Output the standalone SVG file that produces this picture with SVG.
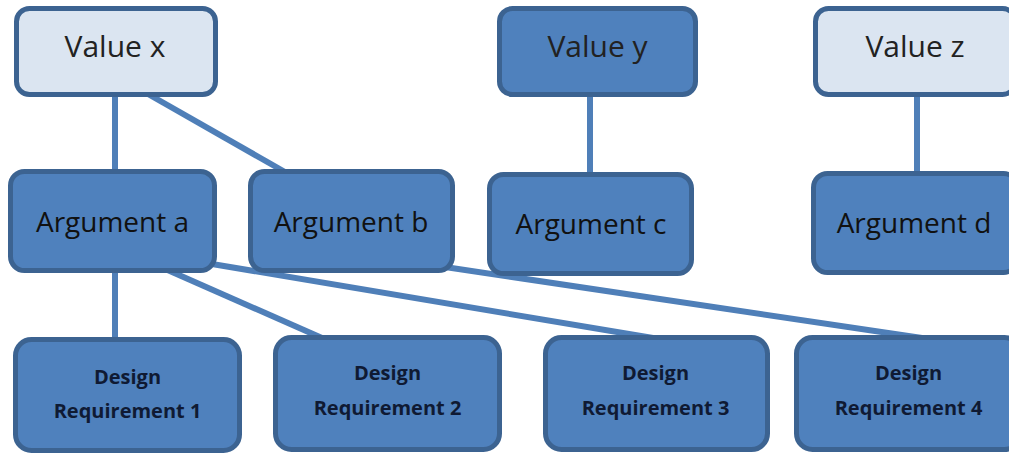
<svg xmlns="http://www.w3.org/2000/svg" width="1009" height="453" viewBox="0 0 1009 453">
<style>
.box{fill:#4f81bd;stroke:#3c6391;stroke-width:5}
.light{fill:#dbe5f1;stroke:#3c6391;stroke-width:5}
.big{font-family:"Open Sans",sans-serif;font-size:28px;fill:#111;text-anchor:middle}
.top{font-size:30px;fill:#222}
.dr{font-family:"Open Sans",sans-serif;font-size:20px;font-weight:bold;fill:#0f1a33;text-anchor:middle}
.conn{stroke:#4f7fb8;stroke-width:6;fill:none}
</style>
<rect width="1009" height="453" fill="#fff"/>
<g id="connectors">
<line class="conn" x1="115" y1="94" x2="115" y2="172"/>
<line class="conn" x1="148" y1="94" x2="285" y2="172"/>
<line class="conn" x1="590" y1="94" x2="590" y2="175"/>
<line class="conn" x1="917" y1="94" x2="917" y2="174"/>
<line class="conn" x1="115" y1="270" x2="115" y2="340"/>
<line class="conn" x1="163" y1="268" x2="322" y2="338"/>
<line class="conn" x1="212" y1="264" x2="653" y2="338"/>
<line class="conn" x1="445" y1="267" x2="922" y2="338"/>
</g>
<g id="value-x"><rect class="light" x="16.5" y="8.5" width="199" height="86" rx="13"/><text class="big top" x="115" y="57">Value x</text></g>
<g id="value-y"><rect class="box" x="499.5" y="8.5" width="196" height="86" rx="13"/><text class="big top" x="597.5" y="57">Value y</text></g>
<g id="value-z"><rect class="light" x="815.5" y="8.5" width="200" height="86" rx="13"/><text class="big top" x="915" y="57">Value z</text></g>
<g id="argument-a"><rect class="box" x="10.5" y="171.5" width="204" height="99" rx="14"/><text class="big" x="112.5" y="232">Argument a</text></g>
<g id="argument-b"><rect class="box" x="250.5" y="171.5" width="202" height="99" rx="14"/><text class="big" x="351" y="232">Argument b</text></g>
<g id="argument-c"><rect class="box" x="489.5" y="174.5" width="202" height="99" rx="14"/><text class="big" x="591" y="234">Argument c</text></g>
<g id="argument-d"><rect class="box" x="813.5" y="173.5" width="204" height="99" rx="14"/><text class="big" x="914" y="233">Argument d</text></g>
<g id="dr1"><rect class="box" x="15.5" y="339.5" width="224" height="111" rx="16"/><text class="dr" x="127.5" y="384">Design</text><text class="dr" x="127.5" y="418">Requirement 1</text></g>
<g id="dr2"><rect class="box" x="275.5" y="337.5" width="224" height="112" rx="16"/><text class="dr" x="387.5" y="380">Design</text><text class="dr" x="387.5" y="415">Requirement 2</text></g>
<g id="dr3"><rect class="box" x="545.5" y="337.5" width="222" height="112" rx="16"/><text class="dr" x="655.5" y="380">Design</text><text class="dr" x="655.5" y="415">Requirement 3</text></g>
<g id="dr4"><rect class="box" x="796.5" y="337.5" width="224" height="112" rx="16"/><text class="dr" x="908.5" y="380">Design</text><text class="dr" x="908.5" y="415">Requirement 4</text></g>
</svg>
